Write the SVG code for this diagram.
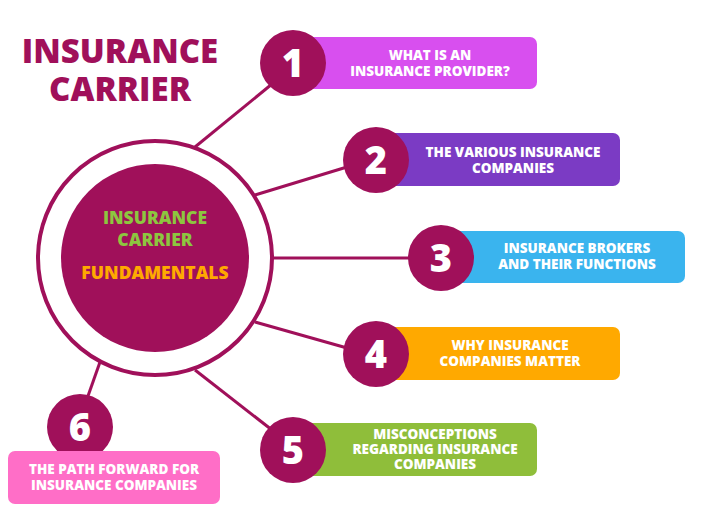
<svg xmlns="http://www.w3.org/2000/svg" width="720" height="513" viewBox="0 0 720 513">
<style>
.t{font-family:"Open Sans","Liberation Sans",sans-serif;font-weight:800;fill:#fff;font-size:13.5px;text-anchor:middle}
.n{font-family:"Open Sans","Liberation Sans",sans-serif;font-weight:800;fill:#fff;font-size:38px;text-anchor:middle}
.nc{fill:#A0105A}
.ln{stroke:#A0105A;stroke-width:3;fill:none}
</style>
<rect width="720" height="513" fill="#fff"/>
<text x="120" y="63" font-family="Open Sans,Liberation Sans,sans-serif" font-weight="800" font-size="33" fill="#A0105A" text-anchor="middle">INSURANCE</text>
<text x="120" y="101" font-family="Open Sans,Liberation Sans,sans-serif" font-weight="800" font-size="33" fill="#A0105A" text-anchor="middle">CARRIER</text>
<g id="connectors">
<line class="ln" x1="195" y1="147" x2="272" y2="84"/>
<line class="ln" x1="255" y1="195" x2="347" y2="167"/>
<line class="ln" x1="272" y1="258" x2="410" y2="258"/>
<line class="ln" x1="255" y1="322" x2="347" y2="348"/>
<line class="ln" x1="195" y1="370" x2="272" y2="430"/>
<line class="ln" x1="100" y1="362" x2="88" y2="396"/>
</g>
<g id="center">
<circle cx="155" cy="258" r="117" fill="#fff" stroke="#A0105A" stroke-width="4"/>
<circle cx="155" cy="258" r="94" fill="#A0105A"/>
<text x="155" y="224" font-family="Open Sans,Liberation Sans,sans-serif" font-weight="800" font-size="17.5" fill="#8DC63F" text-anchor="middle">INSURANCE</text>
<text x="155" y="246" font-family="Open Sans,Liberation Sans,sans-serif" font-weight="800" font-size="17.5" fill="#8DC63F" text-anchor="middle">CARRIER</text>
<text x="155" y="279" font-family="Open Sans,Liberation Sans,sans-serif" font-weight="800" font-size="17.5" fill="#FFA900" text-anchor="middle">FUNDAMENTALS</text>
</g>
<g id="n1"><rect x="300" y="37" width="237" height="52" rx="7" fill="#D84FEF"/><circle class="nc" cx="293" cy="63" r="33"/><text class="n" x="293" y="77">1</text><text class="t" x="430" y="60">WHAT IS AN</text><text class="t" x="430" y="76">INSURANCE PROVIDER?</text></g>
<g id="n2"><rect x="383" y="133" width="237" height="53" rx="7" fill="#7B3BC4"/><circle class="nc" cx="376" cy="160" r="33"/><text class="n" x="376" y="174">2</text><text class="t" x="513" y="157">THE VARIOUS INSURANCE</text><text class="t" x="513" y="173">COMPANIES</text></g>
<g id="n3"><rect x="448" y="231" width="237" height="52" rx="7" fill="#3AB4EE"/><circle class="nc" cx="441" cy="258" r="33"/><text class="n" x="441" y="272">3</text><text class="t" x="577" y="253">INSURANCE BROKERS</text><text class="t" x="577" y="269">AND THEIR FUNCTIONS</text></g>
<g id="n4"><rect x="383" y="327" width="237" height="53" rx="7" fill="#FFA900"/><circle class="nc" cx="376" cy="354" r="33"/><text class="n" x="376" y="368">4</text><text class="t" x="510" y="350">WHY INSURANCE</text><text class="t" x="510" y="366">COMPANIES MATTER</text></g>
<g id="n5"><rect x="300" y="423" width="237" height="53" rx="7" fill="#8FBE3A"/><circle class="nc" cx="293" cy="450" r="33"/><text class="n" x="293" y="464">5</text><text class="t" x="435" y="439">MISCONCEPTIONS</text><text class="t" x="435" y="454">REGARDING INSURANCE</text><text class="t" x="435" y="469">COMPANIES</text></g>
<g id="n6"><circle class="nc" cx="80" cy="427" r="33"/><text class="n" x="80" y="441">6</text><rect x="8" y="451" width="212" height="53" rx="7" fill="#FF6EC7"/><text class="t" x="114" y="474">THE PATH FORWARD FOR</text><text class="t" x="114" y="490">INSURANCE COMPANIES</text></g>
</svg>
